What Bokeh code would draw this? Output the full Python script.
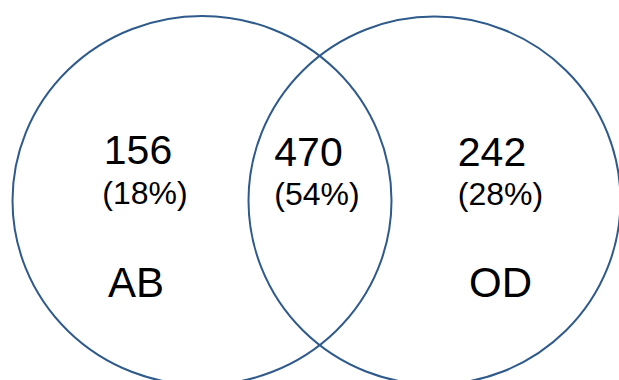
from bokeh.plotting import figure
from bokeh.models import Range1d
from bokeh.core.properties import value
from bokeh.embed import file_html
from bokeh.resources import INLINE

# ---- data ----
set_names = ["AB", "OD"]
region_counts = [156, 470, 242]          # AB only, both, OD only
region_pcts = [18, 54, 28]               # percent of total

# ---- layout (pixel-like coordinates of the picture) ----
ell_x = [201.5, 434]
ell_y = [200, 200]
ell_w = [379, 372]
ell_h = [369, 368]
count_x = [137.5, 308, 491.5]
count_y = [149, 151, 151]
pct_x = [144.5, 316.5, 500]
pct_y = [192, 193, 193]
name_x = [135.5, 500]
name_y = [282, 282]

W, H = 619, 380
p = figure(width=W, height=H, output_backend="svg", toolbar_location=None,
           x_range=Range1d(0, W), y_range=Range1d(H, 0),
           min_border=0, min_border_left=0, min_border_right=0,
           min_border_top=0, min_border_bottom=0)
p.axis.visible = False
p.grid.visible = False
p.outline_line_color = None
p.background_fill_color = "white"
p.border_fill_color = "white"

p.ellipse(x=ell_x, y=ell_y, width=ell_w, height=ell_h, fill_color=None,
          line_color="#2F5A8C", line_width=2)

font = value("Liberation Sans")
p.text(x=count_x, y=count_y, text=[str(c) for c in region_counts],
       text_font=font, text_font_size="41px", text_align="center",
       text_baseline="alphabetic", text_color="black")
p.text(x=pct_x, y=pct_y, text=[f"({v}%)" for v in region_pcts],
       text_font=font, text_font_size="32px", text_align="center",
       text_baseline="alphabetic", text_color="black")
p.text(x=name_x, y=name_y, text=set_names,
       text_font=font, text_font_size="42px", text_align="center",
       text_baseline="alphabetic", text_color="black")

open("out.html", "w").write(file_html(p, INLINE))
